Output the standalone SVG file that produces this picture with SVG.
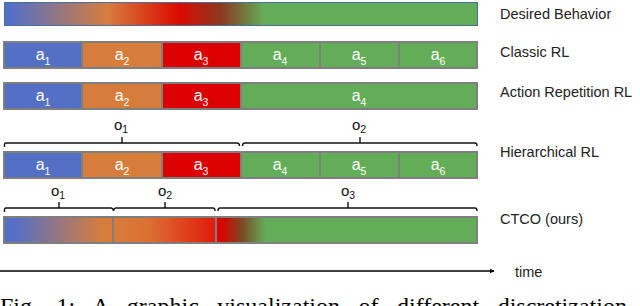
<svg xmlns="http://www.w3.org/2000/svg" width="640" height="306" viewBox="0 0 640 306">
<defs>
<linearGradient id="gDesired" x1="4" y1="0" x2="477" y2="0" gradientUnits="userSpaceOnUse">
<stop offset="0" stop-color="#5470c4"/>
<stop offset="0.015" stop-color="#5470c4"/>
<stop offset="0.22" stop-color="#d77d3c"/>
<stop offset="0.37" stop-color="#dc0a00"/>
<stop offset="0.46" stop-color="#8a3a20"/>
<stop offset="0.55" stop-color="#63ad58"/>
<stop offset="1" stop-color="#63ad58"/>
</linearGradient>
<linearGradient id="gC1" x1="4" y1="0" x2="113" y2="0" gradientUnits="userSpaceOnUse">
<stop offset="0" stop-color="#5470c4"/>
<stop offset="0.1" stop-color="#5470c4"/>
<stop offset="0.9" stop-color="#d77d3c"/>
<stop offset="1" stop-color="#d77d3c"/>
</linearGradient>
<linearGradient id="gC2" x1="113" y1="0" x2="216" y2="0" gradientUnits="userSpaceOnUse">
<stop offset="0" stop-color="#d77d3c"/>
<stop offset="0.35" stop-color="#dc7033"/>
<stop offset="1" stop-color="#e01a0a"/>
</linearGradient>
<linearGradient id="gC3" x1="216" y1="0" x2="477" y2="0" gradientUnits="userSpaceOnUse">
<stop offset="0" stop-color="#e00000"/>
<stop offset="0.03" stop-color="#d00a00"/>
<stop offset="0.1" stop-color="#7a4a25"/>
<stop offset="0.19" stop-color="#63ad58"/>
<stop offset="1" stop-color="#63ad58"/>
</linearGradient>
<marker id="arrow" viewBox="0 0 10 10" refX="9" refY="5" markerWidth="5" markerHeight="5" orient="auto" markerUnits="userSpaceOnUse">
<path d="M0,0 L10,5 L0,10 z" fill="#000"/>
</marker>
</defs>
<style>
.cell{stroke:#7f7f7f;stroke-width:2}
.blue{fill:#5470c4}.orange{fill:#d77d3c}.red{fill:#dc0000}.green{fill:#63ad58}
.ct{font-family:"Liberation Sans",Arial,sans-serif;font-size:16px;fill:#fff;text-anchor:middle}
.sub{font-size:10.5px}
.lbl{font-family:"Liberation Sans",Arial,sans-serif;font-size:14.5px;fill:#222}
.ol{font-family:"Liberation Sans",Arial,sans-serif;font-size:15px;fill:#111;text-anchor:middle}
.br{fill:none;stroke:#111;stroke-width:1.4}
</style>

<g id="desired">
<rect x="4.5" y="2.5" width="473" height="23" fill="url(#gDesired)" stroke="#41719c" stroke-width="1"/>
<text class="lbl" x="500" y="19">Desired Behavior</text>
</g>

<g id="classic">
<rect class="cell blue" x="4" y="42" width="78" height="26"/>
<rect class="cell orange" x="82" y="42" width="80" height="26"/>
<rect class="cell red" x="162" y="42" width="79" height="26"/>
<rect class="cell green" x="241" y="42" width="79" height="26"/>
<rect class="cell green" x="320" y="42" width="79" height="26"/>
<rect class="cell green" x="399" y="42" width="78" height="26"/>
<text class="ct" x="43" y="60">a<tspan class="sub" dy="5">1</tspan></text>
<text class="ct" x="122" y="60">a<tspan class="sub" dy="5">2</tspan></text>
<text class="ct" x="201" y="60">a<tspan class="sub" dy="5">3</tspan></text>
<text class="ct" x="280" y="60">a<tspan class="sub" dy="5">4</tspan></text>
<text class="ct" x="359" y="60">a<tspan class="sub" dy="5">5</tspan></text>
<text class="ct" x="438" y="60">a<tspan class="sub" dy="5">6</tspan></text>
<text class="lbl" x="500" y="57">Classic RL</text>
</g>

<g id="action-repetition">
<rect class="cell blue" x="4" y="83" width="78" height="26"/>
<rect class="cell orange" x="82" y="83" width="80" height="26"/>
<rect class="cell red" x="162" y="83" width="79" height="26"/>
<rect class="cell green" x="241" y="83" width="236" height="26"/>
<text class="ct" x="43" y="101">a<tspan class="sub" dy="5">1</tspan></text>
<text class="ct" x="122" y="101">a<tspan class="sub" dy="5">2</tspan></text>
<text class="ct" x="201" y="101">a<tspan class="sub" dy="5">3</tspan></text>
<text class="ct" x="359" y="101">a<tspan class="sub" dy="5">4</tspan></text>
<text class="lbl" x="500" y="97">Action Repetition RL</text>
</g>

<g id="hierarchical">
<rect class="cell blue" x="4" y="152" width="78" height="26"/>
<rect class="cell orange" x="82" y="152" width="80" height="26"/>
<rect class="cell red" x="162" y="152" width="79" height="26"/>
<rect class="cell green" x="241" y="152" width="79" height="26"/>
<rect class="cell green" x="320" y="152" width="79" height="26"/>
<rect class="cell green" x="399" y="152" width="78" height="26"/>
<text class="ct" x="43" y="170">a<tspan class="sub" dy="5">1</tspan></text>
<text class="ct" x="122" y="170">a<tspan class="sub" dy="5">2</tspan></text>
<text class="ct" x="201" y="170">a<tspan class="sub" dy="5">3</tspan></text>
<text class="ct" x="280" y="170">a<tspan class="sub" dy="5">4</tspan></text>
<text class="ct" x="359" y="170">a<tspan class="sub" dy="5">5</tspan></text>
<text class="ct" x="438" y="170">a<tspan class="sub" dy="5">6</tspan></text>
<text class="lbl" x="500" y="157">Hierarchical RL</text>
</g>

<g id="ctco">
<rect class="cell" x="4" y="217" width="109" height="26" fill="url(#gC1)"/>
<rect class="cell" x="113" y="217" width="103" height="26" fill="url(#gC2)"/>
<rect class="cell" x="216" y="217" width="261" height="26" fill="url(#gC3)"/>
<text class="lbl" x="500" y="224">CTCO (ours)</text>
</g>

<g id="options">
<path class="br" d="M4.5,147 V144.5 Q4.5,143 6,143 H237 Q239.5,143 239.5,146 M122,143 V137"/>
<text class="ol" x="121" y="130">o<tspan class="sub" dy="3">1</tspan></text>
<path class="br" d="M242.5,146 Q242.5,143 245,143 H475 Q477,143 477,146 M360,143 V137"/>
<text class="ol" x="359" y="130">o<tspan class="sub" dy="3">2</tspan></text>
<path class="br" d="M4.5,212 V209.5 Q4.5,208 6,208 H111 Q113,208 113.5,211 Q114,208 116,208 H213 Q215,208 215,211 M59,208 V202 M165,208 V202"/>
<text class="ol" x="58" y="196">o<tspan class="sub" dy="3">1</tspan></text>
<text class="ol" x="165" y="196">o<tspan class="sub" dy="3">2</tspan></text>
<path class="br" d="M218,211 Q218,208 220,208 H475 Q477,208 477,211 M348,208 V202"/>
<text class="ol" x="348" y="196">o<tspan class="sub" dy="3">3</tspan></text>
</g>

<g id="connectors">
<line x1="0" y1="271" x2="494" y2="271" stroke="#000" stroke-width="1.5" marker-end="url(#arrow)"/>
</g>
<text class="lbl" x="515" y="277" font-size="14.5">time</text>

<text x="0" y="314" font-family="'Liberation Serif','Times New Roman',serif" font-size="24" fill="#000" word-spacing="12.5">Fig. 1: A graphic visualization of different discretization</text>
</svg>
